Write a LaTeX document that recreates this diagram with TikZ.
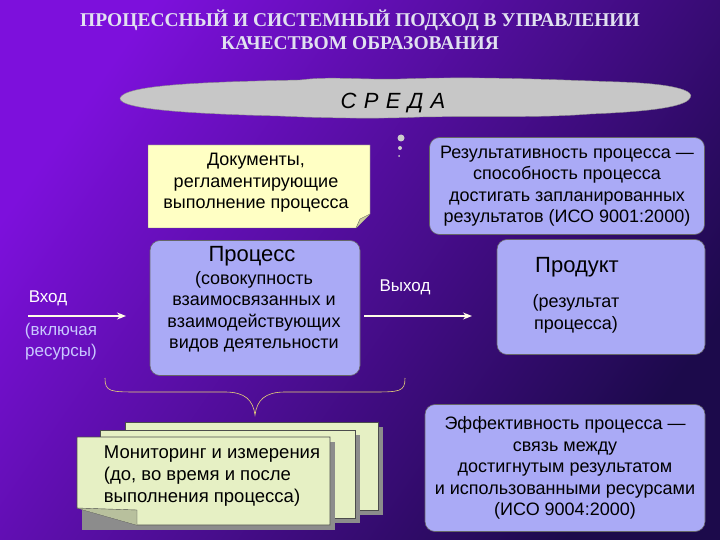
\documentclass[tikz,border=0pt]{standalone}
\usepackage{fontspec}
\setmainfont{Liberation Sans}
\newfontfamily\titlefont{Liberation Serif}
\usetikzlibrary{arrows.meta}
\definecolor{bluebox}{HTML}{AAAAF6}
\definecolor{yelbox}{HTML}{FFFFC4}
\definecolor{grnbox}{HTML}{E6F0C4}
\definecolor{lav}{HTML}{C8C8FF}
\tikzset{
  txt/.style={font=\fontsize{18pt}{21.5pt}\selectfont, align=center, text=black},
  blue/.style={draw=black!60, fill=bluebox, rounded corners=10pt, line width=0.6pt},
  sheet/.style={draw=black!70, fill=grnbox, line width=0.6pt},
  shad/.style={fill=black!45},
  arr/.style={-{Stealth[length=9pt,width=7pt]}, draw=white!90!yellow, line width=1.3pt},
}
\begin{document}
\begin{tikzpicture}[x=1pt,y=-1pt]
\useasboundingbox (0,0) rectangle (720,540);
\shade[left color={rgb,255:red,125;green,16;blue,220}, right color={rgb,255:red,28;green,10;blue,75}, shading angle=55] (0,0) rectangle (720,540);
% title
\node[font=\titlefont\bfseries\fontsize{19.5pt}{23pt}\selectfont, text={rgb,255:red,225;green,225;blue,240}, align=center] (title) at (360,30) {ПРОЦЕССНЫЙ И СИСТЕМНЫЙ ПОДХОД В УПРАВЛЕНИИ\\КАЧЕСТВОМ ОБРАЗОВАНИЯ};
% cloud
\path[fill=black!22, draw=black!45] (120,98) .. controls (125,85) and (200,82) .. (300,80)
  .. controls (330,76) and (360,80) .. (400,79) .. controls (480,76) and (560,80) .. (620,82)
  .. controls (680,84) and (695,92) .. (690,98) .. controls (685,108) and (640,112) .. (590,114)
  .. controls (540,118) and (480,116) .. (420,117) .. controls (380,119) and (320,118) .. (280,116)
  .. controls (200,114) and (118,110) .. (120,98) -- cycle;
\node[font=\itshape\fontsize{22pt}{24pt}\selectfont] (sreda) at (393,103) {С\,\,Р\,\,Е\,\,Д\,\,А};
\fill[black!20] (401,138) circle (3.5pt) (400,148) circle (2pt) (399,156) circle (1pt);
% documents
\fill[yelbox, draw=black!60] (148,145) -- (370,145) -- (370,214) -- (356,228) -- (148,228) -- cycle;
\draw[black!60, fill=yelbox!80!black] (370,214) -- (360,219) -- (356,228);
\node[txt] (docs) at (256,183) {Документы,\\регламентирующие\\выполнение процесса};
% result box
\node[blue, minimum width=275pt, minimum height=97pt, txt] (res) at (567,186) {Результативность процесса —\\способность процесса\\достигать запланированных\\результатов (ИСО 9001:2000)};
% process
\node[blue, minimum width=210pt, minimum height=135pt] (proc) at (255,308) {};
\node[font=\fontsize{22pt}{24pt}\selectfont] (proct) at (252,256) {Процесс};
\node[txt] (procd) at (254,312) {(совокупность\\взаимосвязанных и\\взаимодействующих\\видов деятельности};
% input
\node[font=\fontsize{17pt}{19pt}\selectfont, text=white] (vhod) at (48,298) {Вход};
\node[font=\fontsize{17pt}{21pt}\selectfont, text=lav, align=center] (vkl) at (61,342) {(включая\\ресурсы)};
\coordinate (inA) at (28,316);
\coordinate (inB) at (126,316);
\draw[arr] (inA) -- (inB);
% output
\node[font=\fontsize{17pt}{19pt}\selectfont, text=white] (vyhod) at (405,287) {Выход};
\node[blue, minimum width=208pt, minimum height=115pt] (prod) at (601,297) {};
\node[font=\fontsize{22pt}{24pt}\selectfont] (prodt) at (577,267) {Продукт};
\node[txt] (prodd) at (576,314) {(результат\\процесса)};
\coordinate (oA) at (364,316);
\coordinate (oB) at (472,316);
\draw[arr] (oA) -- (oB);
% brace
\draw[draw={rgb,255:red,230;green,210;blue,120}, line width=0.6pt] (105,378) .. controls (105,392) and (110,392) .. (140,392) -- (225,392) .. controls (245,392) and (253,400) .. (255,415) .. controls (257,400) and (265,392) .. (285,392) -- (370,392) .. controls (400,392) and (405,392) .. (405,378);
% monitoring stack
\fill[shad] (130,427) rectangle (383,515);
\draw[sheet] (125,422) rectangle (378,510);
\fill[shad] (105,435) rectangle (360,523);
\draw[sheet] (100,430) rectangle (355,518);
\fill[shad] (82,442) rectangle (335,530);
\draw[sheet] (77,437) -- (330,437) -- (330,525) -- (137,525) -- (77,508) -- cycle;
\draw[black!70, fill=grnbox!80!black] (77,508) -- (137,510) -- (137,525);
\node[font=\fontsize{18.5pt}{22pt}\selectfont, align=left] (mon) at (212,476) {Мониторинг и измерения\\(до, во время и после\\выполнения процесса)};
% efficiency
\node[blue, minimum width=280pt, minimum height=127pt, txt] (eff) at (565,468) {Эффективность процесса —\\связь между\\достигнутым результатом\\и использованными ресурсами\\(ИСО 9004:2000)};
\end{tikzpicture}
\end{document}
